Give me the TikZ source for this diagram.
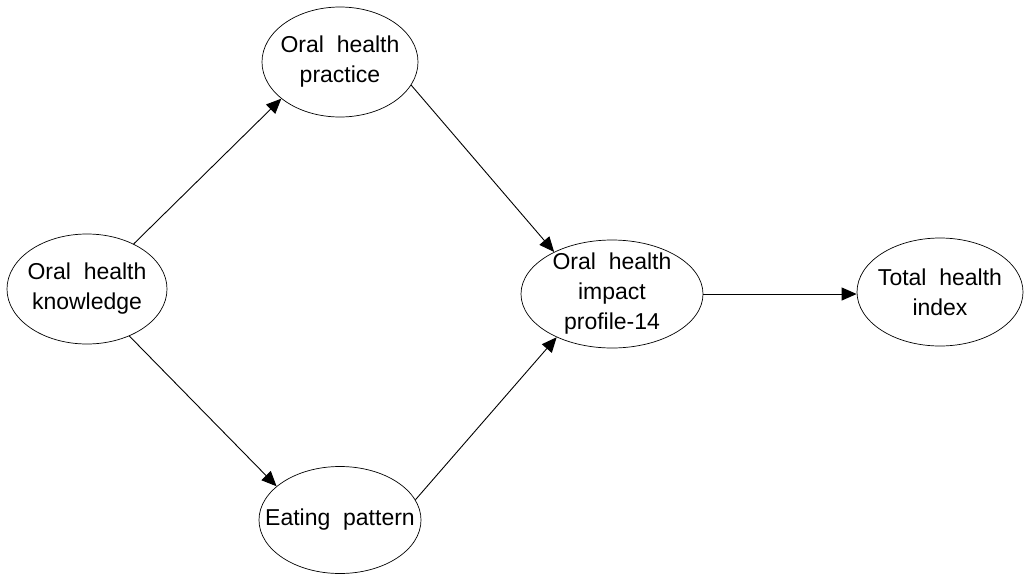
\documentclass[tikz,border=0pt]{standalone}
\usepackage{fontspec}
\setmainfont{Liberation Sans}
\usetikzlibrary{arrows.meta,shapes.geometric}

\begin{document}
\begin{tikzpicture}[x=1pt, y=-1pt,
    var/.style={ellipse, draw, line width=0.7pt, inner xsep=-20pt,
	inner ysep=-10pt, align=center, font=\fontsize{23}{30}\selectfont},
    path/.style={-{Triangle[length=15pt, width=13pt]}, line width=0.9pt}]
    \useasboundingbox (0, 0) rectangle (1030, 576);
    \node [var, minimum width=160, minimum height=110] (know) at (87, 289)
	{Oral\ \ health\\knowledge};
    \node [var, minimum width=156, minimum height=110] (prac) at (340, 62)
	{Oral\ \ health\\practice};
    \node [var, minimum width=162, minimum height=107] (eat) at (340, 520)
	{Eating\ \ pattern};
    \node [var, minimum width=182, minimum height=108] (ohip) at (612, 294)
	{Oral\ \ health\\impact\\profile-14};
    \node [var, minimum width=166, minimum height=108] (total) at (940, 292)
	{Total\ \ health\\index};
    \draw [path] (know.44) -- (prac.212);
    \draw [path] (know.312) -- (eat.152);
    \draw [path] (prac.342) -- (ohip.144);
    \draw [path] (eat.15) -- (ohip.218);
    \draw [path] (ohip.east |- 0, 294) -- (total.west |- 0, 294);
\end{tikzpicture}
\end{document}
